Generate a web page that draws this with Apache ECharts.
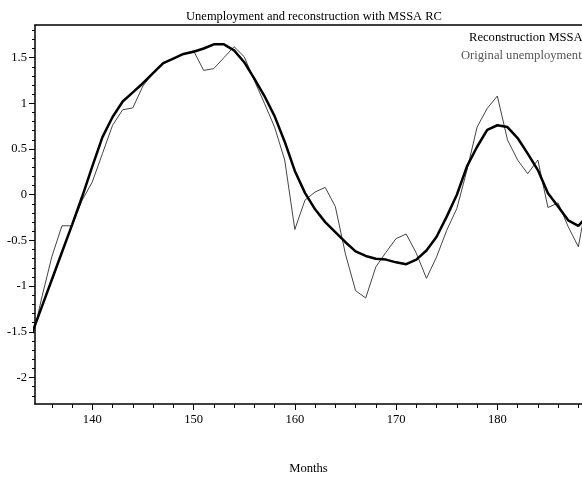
<!DOCTYPE html>
<html>
<head>
<meta charset="utf-8">
<script src="https://cdn.jsdelivr.net/npm/echarts@6.0.0/dist/echarts.min.js"></script>
<style>
  html, body { margin: 0; padding: 0; background: #fff; }
  #chart { width: 582px; height: 477px; }
</style>
</head>
<body>
<div id="chart"></div>
<script>
// months 134..189 (the window shows roughly 134.3 to 188.4)
var months = [];
for (var m = 134; m <= 189; m++) months.push(m);

// thick curve: MSSA reconstruction
var reconstruction = [
    -1.53, -1.23, -0.93, -0.63, -0.33, -0.02, 0.31, 0.63, 0.85, 1.02,
    1.12, 1.22, 1.33, 1.44, 1.49, 1.54, 1.565, 1.60, 1.645, 1.645,
    1.58, 1.45, 1.27, 1.08, 0.86, 0.58, 0.26, 0.02, -0.16, -0.30,
    -0.41, -0.52, -0.62, -0.67, -0.70, -0.71, -0.74, -0.76, -0.71, -0.61,
    -0.46, -0.24, 0.0, 0.31, 0.525, 0.71, 0.76, 0.74, 0.62, 0.45,
    0.27, 0.015, -0.13, -0.28, -0.34, -0.22
];

// thin curve: original unemployment
var original = [
    -1.62, -1.13, -0.68, -0.34, -0.34, -0.06, 0.14, 0.45, 0.76, 0.93,
    0.95, 1.19, 1.33, 1.43, 1.49, 1.54, 1.575, 1.36, 1.38, 1.50,
    1.62, 1.51, 1.25, 1.0, 0.74, 0.38, -0.38, -0.06, 0.03, 0.08,
    -0.13, -0.65, -1.05, -1.13, -0.79, -0.63, -0.48, -0.43, -0.64, -0.915,
    -0.68, -0.39, -0.15, 0.27, 0.74, 0.945, 1.08, 0.60, 0.38, 0.23,
    0.38, -0.14, -0.09, -0.35, -0.57, 0.03
];

var xLabels = [140, 150, 160, 170, 180];
var yLabels = [-2, -1.5, -1, -0.5, 0, 0.5, 1, 1.5];

var xMin = 134.34, xMax = 188.36;
var yMin = -2.29, yMax = 1.857;

// minor ticks: every 2 months, every 0.1 on y
var xMinor = [];
for (var t = 136; t <= 188; t += 2) xMinor.push(t);
var yMinor = [];
for (var k = -22; k <= 18; k++) yMinor.push(k / 10);

function pairs(vals) {
    return months.map(function (mm, i) { return [mm, vals[i]]; });
}

var font = '"Liberation Serif", "Times New Roman", serif';
var fs = 12.6;

var chart = echarts.init(document.getElementById('chart'), null, { renderer: 'canvas' });

var option = {
    animation: false,
    backgroundColor: '#fff',
    textStyle: { fontFamily: font },
    title: {
        text: 'Unemployment and reconstruction with MSSA RC',
        left: 309,
        textAlign: 'center',
        top: 5,
        textStyle: { fontFamily: font, fontSize: 12.5, fontWeight: 'normal', color: '#000' }
    },
    // two one-item legends so each line can sit where the reference has it
    legend: [
        {
            left: 469, top: 31, padding: 0,
            itemWidth: 0, itemHeight: 0, itemGap: 0, icon: 'none',
            textStyle: { fontFamily: font, fontSize: fs, padding: [0, 0, 0, -5] },
            data: [{ name: 'Reconstruction MSSA', textStyle: { color: '#000' } }]
        },
        {
            left: 461, top: 49, padding: 0,
            itemWidth: 0, itemHeight: 0, itemGap: 0, icon: 'none',
            textStyle: { fontFamily: font, fontSize: fs, padding: [0, 0, 0, -5] },
            data: [{ name: 'Original unemployment', textStyle: { color: '#555' } }]
        }
    ],
    grid: { left: 35, top: 25, right: 0, bottom: 73, outerBoundsMode: 'none' },
    xAxis: [
        {
            type: 'value', min: xMin, max: xMax,
            name: 'Months', nameLocation: 'middle', nameGap: 58,
            nameTextStyle: { fontFamily: font, fontSize: fs, color: '#000' },
            axisLine: { show: true, onZero: false, lineStyle: { color: '#000', width: 1.5 } },
            axisTick: { show: true, customValues: xLabels, length: 6, lineStyle: { color: '#000' } },
            axisLabel: { customValues: xLabels, color: '#000', fontFamily: font, fontSize: fs, margin: 9 },
            splitLine: { show: false }
        },
        {
            type: 'value', min: xMin, max: xMax, position: 'bottom',
            axisLine: { show: false, onZero: false },
            axisTick: { show: true, customValues: xMinor, length: 4, lineStyle: { color: '#000' } },
            axisLabel: { show: false },
            splitLine: { show: false }
        },
        {
            type: 'value', min: xMin, max: xMax, position: 'top',
            axisLine: { show: true, onZero: false, lineStyle: { color: '#000', width: 1.5 } },
            axisTick: { show: false },
            axisLabel: { show: false },
            splitLine: { show: false }
        }
    ],
    yAxis: [
        {
            type: 'value', min: yMin, max: yMax,
            axisLine: { show: true, onZero: false, lineStyle: { color: '#000', width: 1.5 } },
            axisTick: { show: true, customValues: yLabels, length: 6, lineStyle: { color: '#000' } },
            axisLabel: { customValues: yLabels, color: '#000', fontFamily: font, fontSize: fs, margin: 8 },
            splitLine: { show: false }
        },
        {
            type: 'value', min: yMin, max: yMax, position: 'left',
            axisLine: { show: false, onZero: false },
            axisTick: { show: true, customValues: yMinor, length: 3, lineStyle: { color: '#000' } },
            axisLabel: { show: false },
            splitLine: { show: false }
        }
    ],
    series: [
        {
            name: 'Original unemployment',
            type: 'line',
            data: pairs(original),
            showSymbol: false,
            clip: true,
            lineStyle: { color: '#444', width: 1 },
            itemStyle: { color: '#444' }
        },
        {
            name: 'Reconstruction MSSA',
            type: 'line',
            data: pairs(reconstruction),
            showSymbol: false,
            clip: true,
            lineStyle: { color: '#000', width: 2.5 },
            itemStyle: { color: '#000' }
        }
    ]
};

chart.setOption(option);
</script>
</body>
</html>
